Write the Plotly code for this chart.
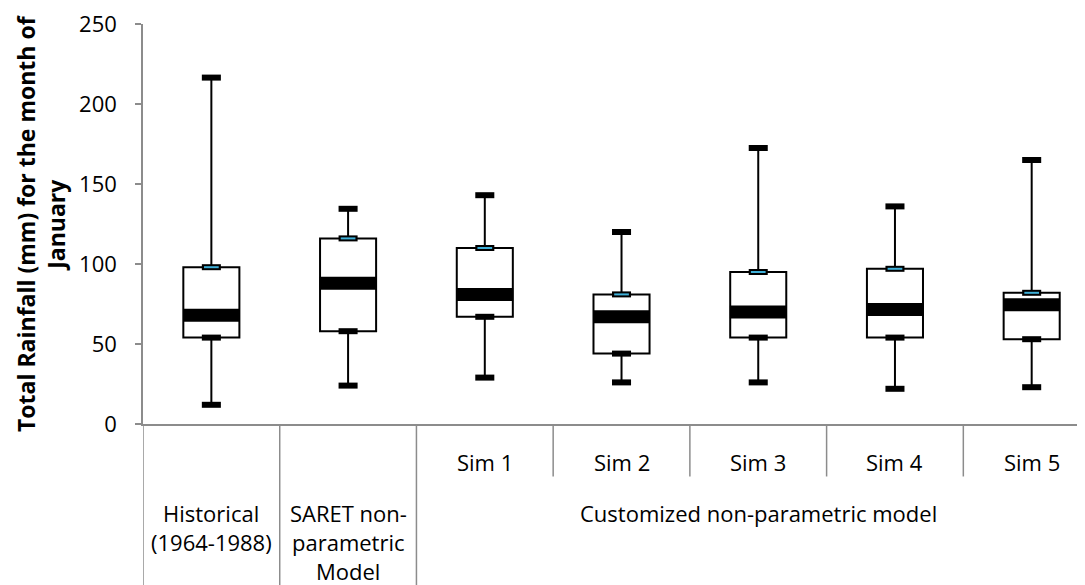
import plotly.graph_objects as go

# ---- data ----
categories = ["Historical", "SARET", "Sim 1", "Sim 2", "Sim 3", "Sim 4", "Sim 5"]
sub_labels = ["", "", "Sim 1", "Sim 2", "Sim 3", "Sim 4", "Sim 5"]
group_labels = ["Historical\n(1964-1988)", "SARET non-\nparametric\nModel", "Customized non-parametric model"]
group_spans = [(0, 0), (1, 1), (2, 6)]

mins = [12, 24, 29, 26, 26, 22, 23]
q1 = [54, 58, 67, 44, 54, 54, 53]
medians = [68, 88, 81, 67, 70, 71.5, 74.5]
q3 = [98, 116, 110, 81, 95, 97, 82]
maxs = [216.5, 134.5, 143, 120, 172.5, 136, 165]

y_ticks = [0, 50, 100, 150, 200, 250]
y_title = "Total Rainfall (mm) for the month of<br>January"

# ---- style ----
FONT = "Open Sans"
AXIS_COLOR = "#8c8c8c"
CYAN = "#3fb0d8"
# the page body adds an 8px offset, so the figure is 8px smaller
W, H = 1077, 577
M_L, M_R, M_T, M_B = 135, 0, 12, 161
PLOT_H = H - M_T - M_B

fig = go.Figure()

# whiskers (error bars from the box edges to the extremes)
fig.add_trace(go.Scatter(
    x=categories, y=q3, mode="markers",
    marker=dict(size=1, color="rgba(0,0,0,0)"),
    error_y=dict(type="data", symmetric=False,
                 array=[mx - a for mx, a in zip(maxs, q3)],
                 arrayminus=[0] * len(q3),
                 width=0, thickness=2, color="black"),
    hoverinfo="skip"))
fig.add_trace(go.Scatter(
    x=categories, y=q1, mode="markers",
    marker=dict(size=1, color="rgba(0,0,0,0)"),
    error_y=dict(type="data", symmetric=False,
                 array=[0] * len(q1),
                 arrayminus=[a - mn for a, mn in zip(q1, mins)],
                 width=0, thickness=2, color="black"),
    hoverinfo="skip"))

# boxes
fig.add_trace(go.Bar(
    x=categories, y=[b - a for a, b in zip(q1, q3)], base=q1,
    width=0.41,
    marker=dict(color="white", line=dict(color="black", width=2))))

# median band
fig.add_trace(go.Scatter(
    x=categories, y=medians, mode="markers",
    marker=dict(symbol="line-ew", size=40.5, line=dict(width=13, color="black"))))

# caps at min / max / Q1 / Q3
cap = dict(symbol="line-ew", size=13.6, line=dict(width=6, color="black"))
for vals in (maxs, mins, q1, q3):
    fig.add_trace(go.Scatter(x=categories, y=vals, mode="markers", marker=cap))
# cyan inner marker at Q3
fig.add_trace(go.Scatter(
    x=categories, y=q3, mode="markers",
    marker=dict(symbol="line-ew", size=10.5, line=dict(width=2, color=CYAN))))

# category axis dividers
shapes = []
bottom = -(M_B + 10) / PLOT_H
short = -53 / PLOT_H
group_bounds = sorted({s - 0.5 for s, e in group_spans})
for b in group_bounds:
    shapes.append(dict(type="line", xref="x", yref="paper", x0=b, x1=b,
                       y0=0, y1=bottom, line=dict(color=AXIS_COLOR, width=1.5)))
for i, lab in enumerate(sub_labels):
    if lab and i > 0 and sub_labels[i - 1]:
        b = i - 0.5
        shapes.append(dict(type="line", xref="x", yref="paper", x0=b, x1=b,
                           y0=0, y1=short, line=dict(color=AXIS_COLOR, width=1.5)))
    if lab and i == len(sub_labels) - 1:
        b = i + 0.5
        shapes.append(dict(type="line", xref="x", yref="paper", x0=b, x1=b,
                           y0=0, y1=short, line=dict(color=AXIS_COLOR, width=1.5)))

annotations = []
for i, lab in enumerate(sub_labels):
    if lab:
        annotations.append(dict(x=i, y=0, xref="x", yref="paper", text=lab,
                                showarrow=False, yshift=-38, yanchor="middle",
                                font=dict(family=FONT, size=22, color="black")))
for lab, (s, e) in zip(group_labels, group_spans):
    for k, line in enumerate(lab.split("\n")):
        annotations.append(dict(x=(s + e) / 2, y=0, xref="x", yref="paper", text=line,
                                showarrow=False, yshift=-(89 + 29 * k), yanchor="middle",
                                borderpad=0,
                                font=dict(family=FONT, size=22, color="black")))
annotations.append(dict(x=0, y=0.5, xref="paper", yref="paper", text=y_title,
                        textangle=-90, showarrow=False, xanchor="center", yanchor="middle",
                        xshift=-102,
                        font=dict(family=FONT, size=23, color="black", weight="bold")))

fig.update_layout(
    width=W, height=H,
    margin=dict(l=M_L, r=M_R, t=M_T, b=M_B, pad=0),
    paper_bgcolor="white", plot_bgcolor="white",
    showlegend=False,
    font=dict(family=FONT, size=22, color="black"),
    xaxis=dict(type="category", categoryorder="array", categoryarray=categories,
               range=[-0.5, 6.39], showticklabels=False, ticks="",
               showline=True, linecolor=AXIS_COLOR, linewidth=1.5,
               showgrid=False, zeroline=False),
    yaxis=dict(range=[0, 250], tickvals=y_ticks, ticks="outside", ticklen=6,
               tickcolor=AXIS_COLOR, tickwidth=1.5, showline=True,
               linecolor=AXIS_COLOR, linewidth=1.5, showgrid=False, zeroline=False,
               tickfont=dict(family=FONT, size=22, color="black"),
               ticklabelstandoff=14, ticklabeloverflow="allow"),
    shapes=shapes,
    annotations=annotations,
)

fig.write_html("out.html")
